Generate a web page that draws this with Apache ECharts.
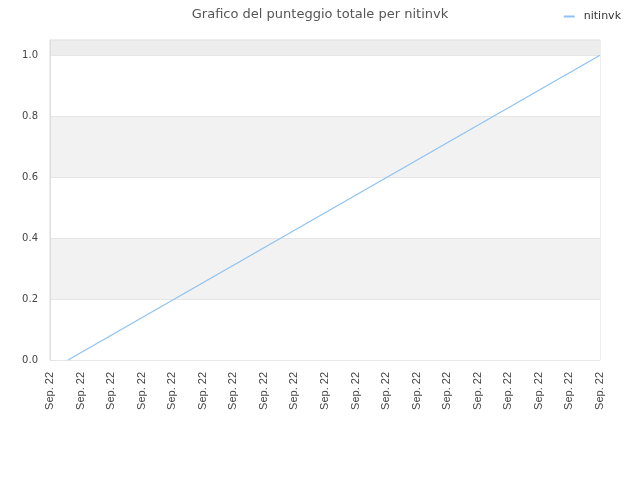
<!DOCTYPE html>
<html>
<head>
<meta charset="utf-8">
<script src="https://cdn.jsdelivr.net/npm/echarts@6/dist/echarts.min.js"></script>
<style>html,body{margin:0;padding:0;background:#fff}#c{width:640px;height:480px}</style>
</head>
<body>
<div id="c"></div>
<script>
var tickLabels = ['Sep. 22','Sep. 22','Sep. 22','Sep. 22','Sep. 22','Sep. 22','Sep. 22','Sep. 22','Sep. 22','Sep. 22','Sep. 22','Sep. 22','Sep. 22','Sep. 22','Sep. 22','Sep. 22','Sep. 22','Sep. 22','Sep. 22'];
var xPositions = [0.59, 18];
var scores = [0, 1];
var seriesName = 'nitinvk';
var titleText = 'Grafico del punteggio totale per nitinvk';

var chart = echarts.init(document.getElementById('c'), null, {renderer: 'canvas'});
chart.setOption({
  animation: false,
  backgroundColor: '#fff',
  title: {
    text: titleText, left: 'center', top: 3,
    textStyle: {fontFamily: 'DejaVu Sans', fontSize: 13, fontWeight: 'normal', color: '#555'}
  },
  legend: {
    right: 14, top: 6, itemWidth: 11, itemHeight: 2, icon: 'rect', itemGap: 5,
    textStyle: {fontFamily: 'DejaVu Sans', fontSize: 11, color: '#333', padding: [0, 0, 0, 4]},
    data: [seriesName]
  },
  grid: {left: 50, right: 40, top: 40, bottom: 120, show: true, borderColor: '#ddd', borderWidth: 1},
  xAxis: {
    type: 'value', min: 0, max: tickLabels.length - 1, interval: 1,
    axisLine: {show: false}, axisTick: {show: false}, splitLine: {show: false},
    axisLabel: {
      rotate: 90, fontFamily: 'Liberation Sans', fontSize: 11, color: '#444', margin: 12,
      formatter: function (v) { return tickLabels[Math.round(v)] || ''; }
    }
  },
  yAxis: {
    type: 'value', min: 0, max: 1.05, interval: 0.2,
    axisLine: {show: true, lineStyle: {color: '#ddd'}}, axisTick: {show: false},
    splitLine: {show: true, lineStyle: {color: '#e6e6e6'}},
    splitArea: {show: true, areaStyle: {color: ['#ffffff', '#f2f2f2', '#ffffff', '#f2f2f2', '#ffffff', '#ededed']}},
    axisLabel: {
      showMaxLabel: false, fontFamily: 'DejaVu Sans', fontSize: 10, color: '#444', margin: 12,
      formatter: function (v) { return v.toFixed(1); }
    }
  },
  series: [{
    name: seriesName, type: 'line', showSymbol: false, symbol: 'none',
    lineStyle: {color: '#90c3f3', width: 1.3}, itemStyle: {color: '#90c3f3'},
    data: xPositions.map(function (x, i) { return [x, scores[i]]; })
  }]
});
</script>
</body>
</html>
